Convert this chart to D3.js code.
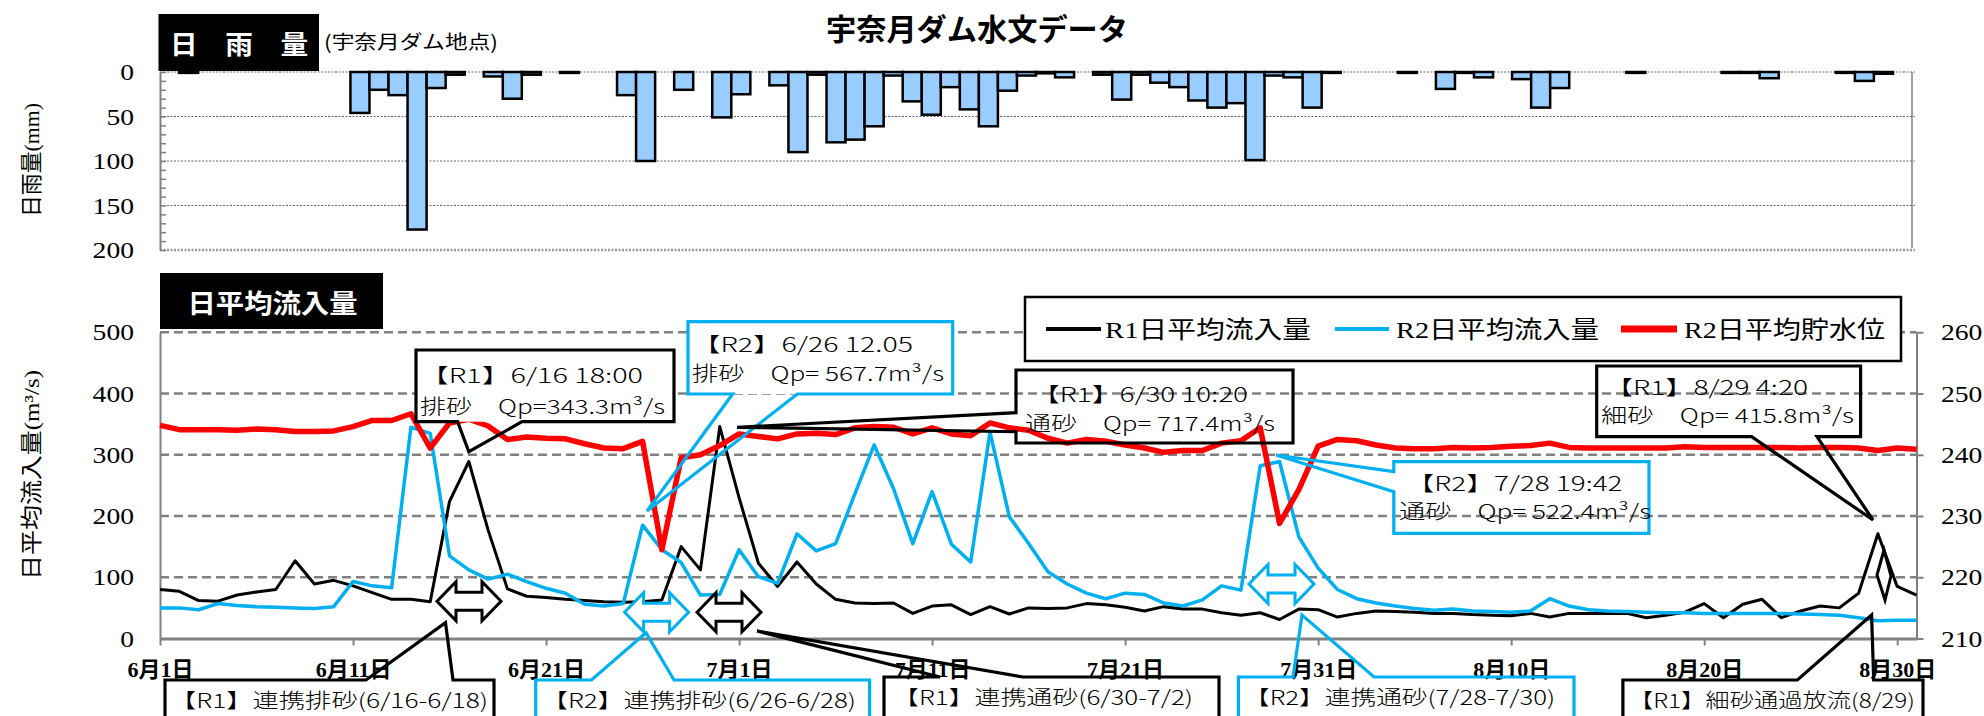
<!DOCTYPE html>
<html><head><meta charset="utf-8">
<script src="https://cdn.jsdelivr.net/npm/d3@7"></script>
<style>html,body{margin:0;padding:0;background:#fff;} svg{display:block;}</style>
</head><body>
<svg id="chart" width="1984" height="716"></svg>
<script>
// ================= DATA =================
const parseDate = d3.timeParse('%Y-%m-%d');
const dates = d3.timeDay.range(parseDate('2020-06-01'), parseDate('2020-09-01')); // 6/1 .. 8/31

// 日雨量 (mm) 宇奈月ダム地点
const rainfall = [
  0,1,0,0,0,0,0,0,0,0,
  46,20,26,177,18,3,0,5,30,3,
  0,1,0,0,26,100,0,20,0,51,
  25,0,15,90,3,79,76,61,4,33,
  48,17,42,61,21,4,1.5,6,0,3,
  31,3,12,17,32,40,35,99,4,6,
  40,1,0,0,0,1,0,19,1,6,
  0,8,40,18,0,0,0,1,0,0,
  0,0,1,1,7,0,0,0,1,10,
  2,0
];
// R1日平均流入量 (m3/s)
const r1Inflow = [
  80,77,62,61,71,76,80,127,89,95,
  86,75,64,64,60,224,289,177,81,69,
  67,64,62,60,59,60,63,150,112,346,
  230,123,85,125,89,64,58,57,58,41,
  53,55,39,52,40,50,49,50,57,55,
  51,45,52,48,48,42,38,42,31,48,
  47,35,41,45,44,43,41,41,39,38,
  37,41,35,41,41,41,41,34,38,43,
  57,34,56,64,34,45,53,50,74,171,
  85,71
];
// R2日平均流入量 (m3/s)
const r2Inflow = [
  50,50,47,57,54,52,51,50,49,52,
  93,86,83,345,335,135,112,97,105,93,
  82,74,56,53,57,185,145,124,71,72,
  145,101,90,171,143,155,236,316,245,155,
  240,154,125,337,199,155,109,89,74,65,
  74,72,58,53,63,86,79,282,289,166,
  115,80,65,58,53,49,46,48,45,44,
  43,45,65,53,47,45,44,43,42,42,
  41,41,41,41,41,40,39,38,34,29,
  30,30
];
// R2日平均貯水位 (m)
const r2Level = [
  244.8,244.1,244.1,244.1,244.0,244.2,244.1,243.8,243.8,243.9,
  244.6,245.6,245.6,246.7,241.1,245.2,245.8,244.7,242.5,242.9,
  242.7,242.6,241.8,241.1,241.0,242.2,224.5,239.5,240.0,241.5,
  243.4,243.0,242.6,243.4,243.5,243.3,244.4,244.6,244.5,243.4,
  244.4,243.4,243.1,245.2,244.4,244.0,242.7,241.9,242.5,242.2,
  241.6,241.1,240.4,240.7,240.7,241.9,242.3,244.4,228.8,234.3,
  241.4,242.5,242.3,241.6,241.1,241.0,241.0,241.2,241.1,241.2,
  241.4,241.5,241.9,241.2,241.1,241.1,241.1,241.1,241.1,241.3,
  241.2,241.2,241.2,241.2,241.2,241.1,241.2,241.2,241.1,240.7,
  241.1,240.9
];
const xTickDates = ['2020-06-01','2020-06-11','2020-06-21','2020-07-01','2020-07-11','2020-07-21','2020-07-31','2020-08-10','2020-08-20','2020-08-30'];
const xTickLabels = ['6月1日','6月11日','6月21日','7月1日','7月11日','7月21日','7月31日','8月10日','8月20日','8月30日'];
const rainTicks = [0,50,100,150,200];
const flowTicks = [0,100,200,300,400,500];
const levelTicks = [210,220,230,240,250,260];
const seriesNames = ['R1日平均流入量','R2日平均流入量','R2日平均貯水位'];

// ================= STYLE / LAYOUT =================
const SANS = "'Noto Sans CJK JP','Noto Sans',sans-serif";
const SERIF = "'Liberation Serif','Noto Sans CJK JP',serif";
const GRAY = '#808080', BLUE = '#00B0F0', RED = '#FF0000', BARFILL = '#99CCFF';
const LY = {left:160, flowRight:1916.5, rainRight:1912, rainTop:72, rainBottom:250, flowTop:332.3, flowBottom:638.5};
const NUM_SX = 1.15; // horizontal stretch of numeric labels

const svg = d3.select('#chart');

// ================= SCALES =================
const xTime = d3.scaleTime().domain([dates[0], dates[dates.length-1]]).range([LY.left, LY.flowRight]);
const xBand = d3.scaleBand().domain(d3.range(dates.length)).range([LY.left, LY.rainRight]).padding(0);
const yRain = d3.scaleLinear().domain([0,200]).range([LY.rainTop, LY.rainBottom]);
const yFlow = d3.scaleLinear().domain([0,500]).range([LY.flowBottom, LY.flowTop]);
const yLevel = d3.scaleLinear().domain([210,260]).range([LY.flowBottom, LY.flowTop]);

function text(g, x, y, str, o) {
  o = o || {};
  const t = g.append('text').attr('x', x).attr('y', y)
    .attr('font-family', o.family || SANS).attr('font-size', o.size || 22)
    .attr('font-weight', o.weight || 400).attr('fill', o.fill || '#000')
    .attr('text-anchor', o.anchor || 'start');
  if (o.len) t.attr('textLength', o.len).attr('lengthAdjust', 'spacingAndGlyphs');
  if (o.rotate) t.attr('transform', `rotate(${o.rotate},${x},${y})`);
  if (o.parts) {
    o.parts.forEach(p => t.append('tspan').attr('font-family', p.family || o.family || SANS).text(p.t));
  } else t.text(str);
  return t;
}

// ================= TITLE =================
text(svg, 826, 40, '宇奈月ダム水文データ', {size:30, weight:700, len:302});

// ================= RAINFALL CHART =================
const gR = svg.append('g');
gR.selectAll('line.rgrid').data(rainTicks).join('line').attr('class','rgrid')
  .attr('x1', LY.left).attr('x2', LY.rainRight + 3)
  .attr('y1', d => yRain(d)).attr('y2', d => yRain(d))
  .attr('stroke', d => d === 200 ? '#999' : '#666').attr('stroke-width', d => d === 200 ? 2.5 : 1)
  .attr('stroke-dasharray', '2,1.5');
gR.append('line').attr('x1', LY.rainRight).attr('x2', LY.rainRight)
  .attr('y1', yRain(0)).attr('y2', yRain(200) - 2).attr('stroke', GRAY).attr('stroke-width', 1.5);
gR.selectAll('rect.bar').data(rainfall.map((v, i) => ({v, i})).filter(d => d.v > 0)).join('rect').attr('class','bar')
  .attr('x', d => xBand(d.i)).attr('width', xBand.bandwidth())
  .attr('y', yRain(0)).attr('height', d => yRain(d.v) - yRain(0))
  .attr('fill', BARFILL).attr('stroke', '#000').attr('stroke-width', 2.5);
const rainAxis = d3.axisLeft(yRain).tickValues(d3.range(0, 201, 10)).tickSize(-6).tickSizeOuter(0)
  .tickPadding(26).tickFormat(d => d % 50 === 0 ? d : '');
const gRA = gR.append('g').attr('transform', `translate(${LY.left},0)`).call(rainAxis);
gRA.select('.domain').attr('stroke', GRAY).attr('stroke-width', 2);
gRA.selectAll('.tick line').attr('stroke', GRAY).attr('stroke-width', 1.5);
gRA.selectAll('.tick text').attr('font-family', SERIF).attr('font-size', 24).attr('fill', '#000')
  .attr('x', -26 / NUM_SX).attr('transform', `scale(${NUM_SX},1)`);
// box label
gR.append('rect').attr('x', 158.5).attr('y', 14).attr('width', 160.5).attr('height', 57).attr('fill', '#000');
text(gR, 170, 54, '日　雨　量', {size:26, weight:700, fill:'#fff', len:138});
text(gR, 324, 49, '(宇奈月ダム地点)', {size:19, len:174});
text(gR, 31, 160, '', {size:22, anchor:'middle', rotate:-90, len:114,
  parts:[{t:'日雨量'}, {t:'(mm)', family:SERIF}]}).attr('dy', '0.35em');

// ================= FLOW CHART =================
const gF = svg.append('g');
gF.selectAll('line.fgrid').data(flowTicks.slice(1)).join('line').attr('class','fgrid')
  .attr('x1', LY.left).attr('x2', LY.flowRight)
  .attr('y1', d => yFlow(d)).attr('y2', d => yFlow(d))
  .attr('stroke', GRAY).attr('stroke-width', 2.5).attr('stroke-dasharray', '9,5');

const leftAxis = d3.axisLeft(yFlow).tickValues(flowTicks).tickSize(0).tickPadding(26);
const gLA = gF.append('g').attr('transform', `translate(${LY.left},0)`).call(leftAxis);
gLA.select('.domain').attr('stroke', GRAY).attr('stroke-width', 2);
gLA.selectAll('.tick text').attr('font-family', SERIF).attr('font-size', 24).attr('fill', '#000')
  .attr('x', -26 / NUM_SX).attr('transform', `scale(${NUM_SX},1)`);

const rightAxis = d3.axisRight(yLevel).tickValues(levelTicks).tickSize(7).tickSizeOuter(0).tickPadding(17);
const gRAx = gF.append('g').attr('transform', `translate(${LY.flowRight},0)`).call(rightAxis);
gRAx.select('.domain').attr('stroke', GRAY).attr('stroke-width', 2);
gRAx.selectAll('.tick line').attr('stroke', GRAY).attr('stroke-width', 2);
gRAx.selectAll('.tick text').attr('font-family', SERIF).attr('font-size', 24).attr('fill', '#000')
  .attr('x', 24.5 / NUM_SX).attr('transform', `scale(${NUM_SX},1)`);

const bottomAxis = d3.axisBottom(xTime).tickValues(xTickDates.map(parseDate))
  .tickFormat((d, i) => xTickLabels[i]).tickSize(7).tickSizeOuter(0);
const gBA = gF.append('g').attr('transform', `translate(0,${LY.flowBottom})`).call(bottomAxis);
gBA.select('.domain').attr('stroke', GRAY).attr('stroke-width', 3);
gBA.selectAll('.tick line').attr('stroke', GRAY).attr('stroke-width', 2);
gBA.selectAll('.tick text').attr('font-family', SERIF).attr('font-size', 22).attr('font-weight', 700)
  .attr('fill', '#000').attr('y', 23);

// lines
const lineFlow = d3.line().x((d, i) => xTime(dates[i])).y(d => yFlow(d));
const lineLevel = d3.line().x((d, i) => xTime(dates[i])).y(d => yLevel(d));
gF.append('path').datum(r1Inflow).attr('d', lineFlow).attr('fill', 'none')
  .attr('stroke', '#000').attr('stroke-width', 3).attr('stroke-linejoin', 'round');
gF.append('path').datum(r2Inflow).attr('d', lineFlow).attr('fill', 'none')
  .attr('stroke', BLUE).attr('stroke-width', 3.5).attr('stroke-linejoin', 'round');
gF.append('path').datum(r2Level).attr('d', lineLevel).attr('fill', 'none')
  .attr('stroke', RED).attr('stroke-width', 5.5).attr('stroke-linejoin', 'round');

// section label
gF.append('rect').attr('x', 160).attr('y', 273).attr('width', 223).attr('height', 56).attr('fill', '#000');
text(gF, 187.5, 313, '日平均流入量', {size:26, weight:700, fill:'#fff', len:170});
text(gF, 31, 475, '', {size:22, anchor:'middle', rotate:-90, len:210,
  parts:[{t:'日平均流入量'}, {t:'(m³/s)', family:SERIF}]}).attr('dy', '0.35em');

// ================= LEGEND =================
const legendItems = [
  {name: seriesNames[0], color:'#000', sw:4, x1:1046, x2:1101, tx:1105, tw:206},
  {name: seriesNames[1], color:BLUE, sw:4, x1:1335, x2:1389, tx:1396, tw:203},
  {name: seriesNames[2], color:RED, sw:7, x1:1621, x2:1677, tx:1684, tw:201}
];
const gL = svg.append('g');
gL.append('rect').attr('x', 1025).attr('y', 297).attr('width', 876).attr('height', 64)
  .attr('fill', '#fff').attr('stroke', '#000').attr('stroke-width', 2.5);
legendItems.forEach(it => {
  gL.append('line').attr('x1', it.x1).attr('x2', it.x2).attr('y1', 329).attr('y2', 329)
    .attr('stroke', it.color).attr('stroke-width', it.sw);
  text(gL, it.tx, 338, '', {size:24, len:it.tw,
    parts:[{t:it.name.slice(0, 2), family:SERIF}, {t:it.name.slice(2)}]});
});

// ================= ANNOTATIONS =================
function arrowPath(cx, cy, w, h) {
  const hl = Math.min(19, w / 2), bh = h * 0.23, x0 = cx - w / 2, x1 = cx + w / 2, t = cy - h / 2, b = cy + h / 2;
  return `M${x0},${cy}L${x0+hl},${t}L${x0+hl},${cy-bh}L${x1-hl},${cy-bh}L${x1-hl},${t}L${x1},${cy}` +
         `L${x1-hl},${b}L${x1-hl},${cy+bh}L${x0+hl},${cy+bh}L${x0+hl},${b}Z`;
}
const arrows = [
  {color:'#000', cx:469, cy:601.3, w:64, h:39},
  {color:BLUE, cx:656.6, cy:612.3, w:64, h:39},
  {color:'#000', cx:729, cy:612.3, w:64, h:39},
  {color:BLUE, cx:1281.5, cy:584, w:65, h:39}
];
const gA = svg.append('g');
arrows.forEach(a => gA.append('path').attr('d', arrowPath(a.cx, a.cy, a.w, a.h))
  .attr('fill', '#fff').attr('stroke', a.color).attr('stroke-width', 3).attr('stroke-linejoin', 'miter'));
gA.append('path').attr('d', 'M1877,575L1884,550L1891,576L1885,600Z')
  .attr('fill', '#fff').attr('stroke', '#000').attr('stroke-width', 3);

function calloutPath(box, wd) {
  const [x0, y0, x1, y1] = box, [tx, ty] = wd.tip;
  let p = `M${x0},${y0}`;
  if (wd.side === 'top') p += `L${wd.a},${y0}L${tx},${ty}L${wd.b},${y0}`;
  p += `L${x1},${y0}L${x1},${y1}`;
  if (wd.side === 'bottom') p += `L${wd.b},${y1}L${tx},${ty}L${wd.a},${y1}`;
  p += `L${x0},${y1}`;
  if (wd.side === 'left') p += `L${x0},${wd.b}L${tx},${ty}L${x0},${wd.a}`;
  return p + 'Z';
}
const callouts = [
  {color:'#000', boxFill:'#fff', box:[416,350,674,421.7], wedge:{side:'bottom', a:457.6, b:522, tip:[468.8,451.7]},
   lines:[{t:'【R1】6/16 18:00', x:420, y:383, w:223}, {t:'排砂　Qp=343.3m³/s', x:420, y:414, w:245}]},
  {color:BLUE, boxFill:'#fff', box:[688,321.7,952.7,394], wedge:{side:'bottom', a:732.6, b:797.3, tip:[647,511]},
   lines:[{t:'【R2】6/26 12.05', x:692, y:352, w:221}, {t:'排砂　Qp= 567.7m³/s', x:692, y:381, w:252}]},
  {color:'#000', box:[1016,370,1293,443], wedge:{side:'left', a:412.7, b:431.7, tip:[737,427.3]},
   lines:[{t:'【R1】6/30 10:20', x:1032, y:402, w:216}, {t:'通砂　Qp= 717.4m³/s', x:1025, y:431, w:250}]},
  {color:BLUE, box:[1393.8,461.7,1649,533.3], wedge:{side:'left', a:471.7, b:491.7, tip:[1276,455]},
   lines:[{t:'【R2】7/28 19:42', x:1406.5, y:491, w:216}, {t:'通砂　Qp= 522.4m³/s', x:1399, y:519, w:252}]},
  {color:'#000', box:[1596.7,366,1860.6,436.7], wedge:{side:'bottom', a:1751.6, b:1817, tip:[1873,520]},
   lines:[{t:'【R1】8/29 4:20', x:1605, y:395, w:203}, {t:'細砂　Qp= 415.8m³/s', x:1601, y:423, w:253}]},
  {color:'#000', box:[165,680,494,728], wedge:{side:'top', a:366, b:453, tip:[445.5,622.7]},
   lines:[{t:'【R1】連携排砂(6/16-6/18)', x:170, y:708, w:318}]},
  {color:BLUE, box:[535.7,680,869.6,728], wedge:{side:'top', a:591.5, b:674, tip:[646,632.7]},
   lines:[{t:'【R2】連携排砂(6/26-6/28)', x:542, y:708, w:314}]},
  {color:'#000', box:[884,677,1219,728], wedge:{side:'top', a:940, b:1022.8, tip:[757,631]},
   lines:[{t:'【R1】連携通砂(6/30-7/2)', x:893, y:705, w:300}]},
  {color:BLUE, box:[1238.4,677,1574,728], wedge:{side:'top', a:1293, b:1374, tip:[1302,615]},
   lines:[{t:'【R2】連携通砂(7/28-7/30)', x:1244, y:705, w:311}]},
  {color:'#000', box:[1622.9,680,1923,728], wedge:{side:'top', a:1797.4, b:1873.7, tip:[1871.6,615]},
   lines:[{t:'【R1】細砂通過放流(8/29)', x:1629, y:708, w:286}]}
];
const gC = svg.append('g');
callouts.forEach(c => {
  if (c.boxFill) gC.append('rect').attr('x', c.box[0]).attr('y', c.box[1])
    .attr('width', c.box[2] - c.box[0]).attr('height', c.box[3] - c.box[1]).attr('fill', c.boxFill);
  gC.append('path').attr('d', calloutPath(c.box, c.wedge)).attr('fill', 'none')
    .attr('stroke', c.color).attr('stroke-width', 3.2).attr('stroke-linejoin', 'miter');
  c.lines.forEach(l => text(gC, l.x, l.y, l.t, {size:20, weight:300, len:l.w}));
});
</script>
</body></html>
